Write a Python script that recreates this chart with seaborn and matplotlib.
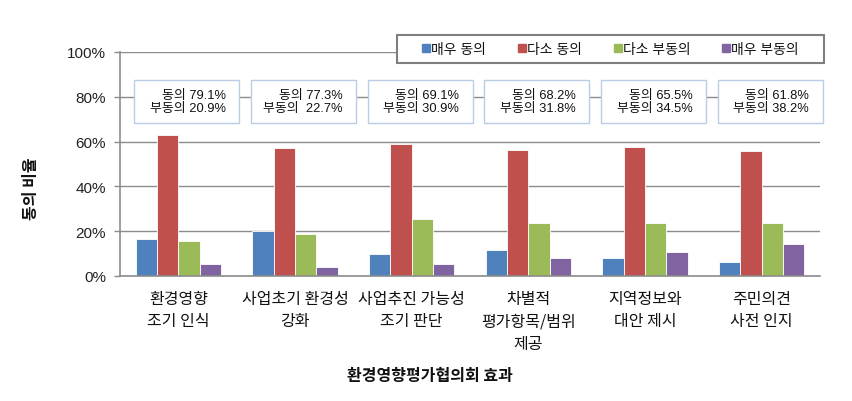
import matplotlib
matplotlib.use("Agg")
import matplotlib.pyplot as plt
from matplotlib.patches import Rectangle
from matplotlib.lines import Line2D
import seaborn as sns
import pandas as pd

categories = ["환경영향\n조기 인식", "사업초기 환경성\n강화", "사업추진 가능성\n조기 판단",
              "차별적\n평가항목/범위\n제공", "지역정보와\n대안 제시", "주민의견\n사전 인지"]
series = ["매우 동의", "다소 동의", "다소 부동의", "매우 부동의"]
strong_agree = [16.3, 20.0, 10.0, 11.8, 8.1, 6.2]
agree = [62.8, 57.3, 59.1, 56.4, 57.4, 55.6]
disagree = [15.6, 18.9, 25.5, 23.7, 23.8, 23.7]
strong_disagree = [5.3, 3.8, 5.4, 8.1, 10.7, 14.5]
agree_total = ["79.1%", "77.3%", "69.1%", "68.2%", "65.5%", "61.8%"]
disagree_total = ["20.9%", " 22.7%", "30.9%", "31.8%", "34.5%", "38.2%"]
colors = ["#4F81BD", "#C0504D", "#9BBB59", "#8064A2"]
yticks = [0, 20, 40, 60, 80, 100]
ylabels = ["0%", "20%", "40%", "60%", "80%", "100%"]

rows = []
for s, vals in zip(series, [strong_agree, agree, disagree, strong_disagree]):
    for c, v in zip(categories, vals):
        rows.append({"cat": c, "series": s, "val": v})
df = pd.DataFrame(rows)

sns.set_style("white")
plt.rcParams["font.family"] = ["Liberation Sans", "Noto Sans CJK KR", "DejaVu Sans"]
CJK = ["Noto Sans CJK KR", "DejaVu Sans"]

W, H = 852, 402
fig = plt.figure(figsize=(W / 100, H / 100), dpi=100)
ax = fig.add_axes([120 / W, 1 - 277 / H, 700 / W, 224 / H])

sns.barplot(data=df, x="cat", y="val", hue="series", palette=colors,
            width=0.73, ax=ax, legend=False, edgecolor="white", linewidth=0.6,
            saturation=1)

ax.set_xlim(-0.5, 5.5)
ax.set_ylim(0, 100)
ax.set_yticks(yticks)
ax.set_yticklabels(ylabels, fontsize=11, color="#222222")
ax.yaxis.grid(True, color="#8c8c8c", lw=1)
ax.set_axisbelow(True)
ax.set_xlabel("")
ax.set_ylabel("")
ax.set_xticks(range(6))
ax.set_xticklabels(categories, fontsize=11.5, linespacing=1.42, color="#111111",
                   family=CJK)
ax.tick_params(axis="x", length=0, pad=10)
ax.set_xticks([i - 0.5 for i in range(7)], minor=True)
ax.tick_params(axis="x", which="minor", length=4, color="#8c8c8c", width=1)
ax.tick_params(axis="y", length=4, color="#8c8c8c", width=1, left=True, pad=6)
for sp in ["top", "right"]:
    ax.spines[sp].set_visible(False)
for sp in ["left", "bottom"]:
    ax.spines[sp].set_color("#8c8c8c")
    ax.spines[sp].set_linewidth(1.2)

# annotation boxes (data coords: x in category units, y in %)
px_x = 700 / 6.0
for i in range(6):
    cx = i + 8.5 / px_x
    bw = 105 / px_x
    y0 = (277 - 124) / 224 * 100
    y1 = (277 - 81) / 224 * 100
    rect = Rectangle((cx - bw / 2, y0), bw, y1 - y0, facecolor="white",
                     edgecolor="#B9CDE5", lw=1, zorder=3, clip_on=False)
    ax.add_patch(rect)
    xr = cx + bw / 2 - 13.5 / px_x
    ax.text(xr, (277 - 95.5) / 224 * 100, "동의 " + agree_total[i], ha="right",
            va="center", fontsize=9.3, color="#111111", zorder=4)
    ax.text(xr, (277 - 108.8) / 224 * 100, "부동의 " + disagree_total[i], ha="right",
            va="center", fontsize=9.3, color="#111111", zorder=4)

# legend box and legend
fig.add_artist(Rectangle((397 / W, 1 - 64 / H), 427 / W, 28 / H,
                         transform=fig.transFigure, facecolor="white",
                         edgecolor="#7f7f7f", lw=1.5, zorder=4))
handles = [Line2D([], [], marker="s", linestyle="none", markersize=5.5,
                  markerfacecolor=c, markeredgecolor=c) for c in colors]
leg = fig.legend(handles, series, ncol=4, loc="center",
                 bbox_to_anchor=(610.5 / W, 1 - 50 / H),
                 fontsize=10, frameon=False,
                 handlelength=0.55, handletextpad=0.1, columnspacing=2.3,
                 borderpad=0.4, borderaxespad=0)
leg.set_zorder(5)
for t in leg.get_texts():
    t.set_color("#111111")

fig.text(31 / W, 1 - 189 / H, "동의 비율", rotation=90, ha="center", va="center",
         fontsize=11.5, fontweight="bold", color="#111111", family=CJK)
fig.text(430 / W, 1 - 376 / H, "환경영향평가협의회 효과", ha="center", va="center",
         fontsize=11.5, fontweight="bold", color="#111111", family=CJK)

fig.savefig("out.png", dpi=100)
